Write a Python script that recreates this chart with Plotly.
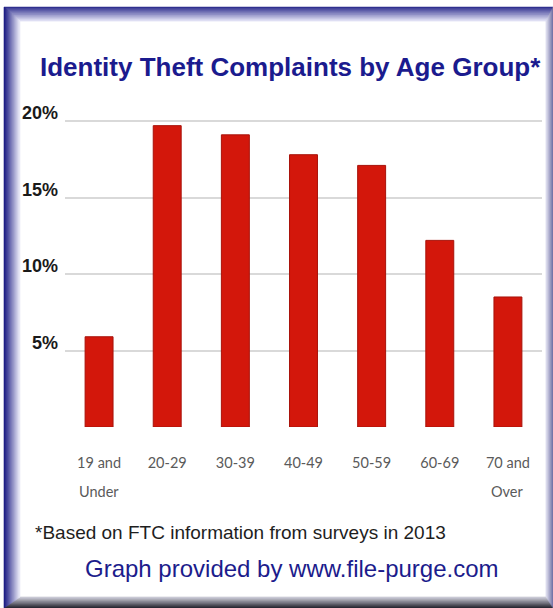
import plotly.graph_objects as go

# Share of identity theft complaints (%) by age group, FTC 2013
age_groups = ["19 and Under", "20-29", "30-39", "40-49", "50-59", "60-69", "70 and Over"]
first_line = ["19 and", "20-29", "30-39", "40-49", "50-59", "60-69", "70 and"]
second_line = ["Under", "", "", "", "", "", "Over"]
share_pct = [5.9, 19.7, 19.1, 17.8, 17.1, 12.2, 8.5]
y_ticks = [0, 5, 10, 15, 20]
y_tick_text = ["", "5%", "10%", "15%", "20%"]

W, H = 553, 608
Y_TOP = 20.2
PL, PR, PB = 65, 542, 427          # plot area edges in pixels
PT = PB - Y_TOP * (PB - 121) / 20  # 20% gridline sits at y=121


def px_x(x):
    return (x - PL) / (PR - PL)


def px_y(y):
    return (PB - y) / (PB - PT)


def rgb(c):
    return "rgb(%d,%d,%d)" % tuple(int(round(v)) for v in c)


def mix(a, b, t):
    return [a[i] + (b[i] - a[i]) * t for i in range(3)]


# Bevelled blue frame built from mitred strips
x0, y0, x1, y1 = 4, 7, 553, 608
thick = {"top": 14, "left": 16, "right": 7, "bottom": 11}
cols = {
    "top": ((40, 40, 140), (228, 228, 246)),
    "left": ((22, 22, 128), (238, 238, 250)),
    "right": ((105, 105, 158), (222, 222, 238)),
    "bottom": ((25, 25, 35), (205, 205, 218)),
}
N = 16


def rect(t):
    return (x0 + t * thick["left"], y0 + t * thick["top"],
            x1 - t * thick["right"], y1 - t * thick["bottom"])


shapes = []
for k in range(N):
    ta, tb = k / N, (k + 1) / N
    a, b = rect(ta), rect(tb)
    polys = {
        "top": [(a[0], a[1]), (a[2], a[1]), (b[2], b[1]), (b[0], b[1])],
        "bottom": [(a[0], a[3]), (a[2], a[3]), (b[2], b[3]), (b[0], b[3])],
        "left": [(a[0], a[1]), (b[0], b[1]), (b[0], b[3]), (a[0], a[3])],
        "right": [(a[2], a[1]), (b[2], b[1]), (b[2], b[3]), (a[2], a[3])],
    }
    for side, pts in polys.items():
        c = rgb(mix(cols[side][0], cols[side][1], (k + 0.5) / N))
        path = "M " + " L ".join("%.5f,%.5f" % (px_x(px), px_y(py)) for px, py in pts) + " Z"
        shapes.append(dict(type="path", xref="paper", yref="paper", path=path,
                           fillcolor=c, line=dict(width=0.6, color=c), layer="above"))

fig = go.Figure(
    go.Bar(
        x=age_groups,
        y=share_pct,
        marker=dict(color="#d3170b", line=dict(color="#a8120a", width=1)),
        hoverinfo="skip",
    )
)

SANS = "Liberation Sans, Arial, sans-serif"
annotations = [
    dict(text="<b>Identity Theft Complaints by Age Group*</b>", x=px_x(290), y=px_y(67),
         xref="paper", yref="paper", showarrow=False, xanchor="center", yanchor="middle",
         font=dict(family=SANS, size=26, color="#1b1b8e")),
    dict(text="*Based on FTC information from surveys in 2013", x=px_x(33), y=px_y(533),
         xref="paper", yref="paper", showarrow=False, xanchor="left", yanchor="middle",
         font=dict(family=SANS, size=19, color="#1e1e1e")),
    dict(text="Graph provided by www.file-purge.com", x=px_x(292), y=px_y(569),
         xref="paper", yref="paper", showarrow=False, xanchor="center", yanchor="middle",
         font=dict(family=SANS, size=24, color="#1c1c8c")),
]
for cat, txt in zip(age_groups, second_line):
    if txt:
        annotations.append(dict(text=txt, x=cat, xref="x", y=px_y(492), yref="paper",
                                showarrow=False, xanchor="center", yanchor="middle",
                                font=dict(family="Lato, sans-serif", size=14.5, color="#5a5a5a")))

fig.update_layout(
    width=W, height=H,
    margin=dict(l=PL, r=W - PR, t=PT, b=H - PB, pad=0),
    paper_bgcolor="white", plot_bgcolor="white",
    showlegend=False, bargap=0.59,
    shapes=shapes, annotations=annotations,
    xaxis=dict(tickmode="array", tickvals=age_groups, ticktext=first_line,
               showgrid=False, showline=False, ticks="", ticklabelstandoff=25,
               tickfont=dict(family="Lato, sans-serif", size=14.5, color="#5a5a5a"),
               fixedrange=True),
    yaxis=dict(range=[0, Y_TOP], tickmode="array", tickvals=y_ticks, ticktext=y_tick_text,
               showgrid=True, gridcolor="#d9d9d9", gridwidth=2, zeroline=False,
               showline=False, ticks="", ticklabelstandoff=6, ticklabelshift=-8,
               tickfont=dict(family=SANS, size=18, color="#1a1a1a", weight="bold"),
               fixedrange=True),
)

fig.write_html("out.html", config={"displayModeBar": False})
